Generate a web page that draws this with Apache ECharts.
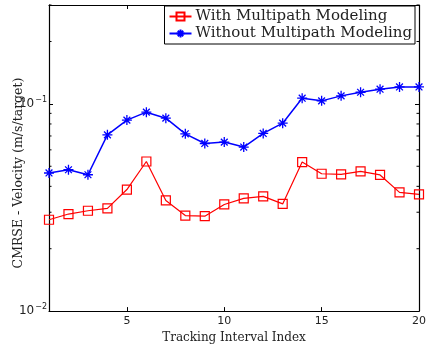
<!DOCTYPE html>
<html>
<head>
<meta charset="utf-8">
<script src="https://cdn.jsdelivr.net/npm/echarts@6/dist/echarts.min.js"></script>
<style>
  html, body { margin: 0; padding: 0; background: #fff; }
  #chart { width: 429px; height: 349px; }
</style>
</head>
<body>
<div id="chart"></div>
<script>
// Tracking interval indices
const intervals = [1, 2, 3, 4, 5, 6, 7, 8, 9, 10, 11, 12, 13, 14, 15, 16, 17, 18, 19, 20];

// CMRSE velocity (m/s/target) per tracking interval
const withMultipath = [0.0276, 0.0294, 0.0305, 0.0313, 0.0386, 0.0527, 0.0342, 0.0289, 0.0287, 0.0327,
                       0.0350, 0.0358, 0.0329, 0.0524, 0.0460, 0.0457, 0.0472, 0.0454, 0.0374, 0.0366];
const withoutMultipath = [0.0464, 0.0481, 0.0455, 0.0709, 0.0835, 0.0912, 0.0853, 0.0717, 0.0644, 0.0654,
                          0.0619, 0.0720, 0.0807, 0.1065, 0.1034, 0.1093, 0.1138, 0.1177, 0.1207, 0.1207];

// Axis ranges and ticks
const xTicks = [5, 10, 15, 20];
const yMin = 0.01, yMax = 0.3;
const yMinorTicks = [0.02, 0.03, 0.04, 0.05, 0.06, 0.07, 0.08, 0.09, 0.2, 0.3];

const seriesNames = ['With Multipath Modeling', 'Without Multipath Modeling'];
const yTitle = 'CMRSE - Velocity (m/s/target)';
const xTitle = 'Tracking Interval Index';

const serif = 'DejaVu Serif';
const sans = 'DejaVu Sans';
const textColor = '#222';

const asterisk = 'path://M5,0L5,10M0,5L10,5M1.6,1.6L8.4,8.4M1.6,8.4L8.4,1.6';

function powLabel(v) {
  const e = Math.log10(v);
  const r = Math.round(e);
  if (Math.abs(e - r) > 1e-6) return '';
  return '{b|10}{s|' + (r < 0 ? '\u2212' + (-r) : r) + '}';
}

const chart = echarts.init(document.getElementById('chart'), null, { renderer: 'canvas' });

const baseX = {
  type: 'value', min: intervals[0], max: intervals[intervals.length - 1],
  splitLine: { show: false },
  axisLine: { show: true, onZero: false, lineStyle: { color: '#000', width: 1.2 } },
  axisTick: { show: true, inside: true, length: 4, customValues: xTicks, lineStyle: { color: '#000' } }
};
const baseY = {
  type: 'log', logBase: 10, min: yMin, max: yMax, interval: 1,
  splitLine: { show: false },
  axisLine: { show: true, lineStyle: { color: '#000', width: 1.2 } },
  axisTick: { show: true, inside: true, length: 4, lineStyle: { color: '#000' } }
};

chart.setOption({
  animation: false,
  backgroundColor: '#fff',
  grid: { left: 49, right: 10, top: 5, bottom: 37 },
  xAxis: [
    Object.assign({}, baseX, {
      position: 'bottom',
      name: xTitle, nameLocation: 'middle', nameGap: 17,
      nameTextStyle: { fontFamily: serif, fontSize: 12, color: textColor },
      axisLabel: { show: true, customValues: xTicks, margin: 5, fontFamily: sans, fontSize: 11, color: textColor }
    }),
    Object.assign({}, baseX, { position: 'top', axisLabel: { show: false } })
  ],
  yAxis: [
    Object.assign({}, baseY, {
      position: 'left',
      axisLabel: {
        show: true, margin: 2, showMaxLabel: false,
        formatter: powLabel,
        rich: {
          b: { fontFamily: sans, fontSize: 12, color: textColor },
          s: { fontFamily: sans, fontSize: 8, color: textColor, padding: [0, 0, 8, 1] }
        }
      }
    }),
    Object.assign({}, baseY, { position: 'right', axisLabel: { show: false } })
  ],
  legend: {
    data: seriesNames,
    orient: 'vertical',
    right: 14, top: 6,
    backgroundColor: '#fff',
    borderColor: '#000', borderWidth: 1,
    padding: [3, 3, 3, 4],
    itemGap: 2,
    itemWidth: 22, itemHeight: 10,
    textStyle: { fontFamily: serif, fontSize: 15, color: textColor, padding: [0, 0, 0, -1] }
  },
  graphic: [{
    type: 'text', x: 19, y: 173, rotation: Math.PI / 2,
    style: {
      text: yTitle, font: '12.5px "' + serif + '"', fill: textColor,
      align: 'center', verticalAlign: 'middle'
    }
  }],
  series: [
    {
      name: seriesNames[0], type: 'line',
      data: intervals.map((x, i) => [x, withMultipath[i]]),
      symbol: 'rect', symbolSize: 9,
      lineStyle: { color: '#ff0000', width: 1.2 },
      itemStyle: { color: 'rgba(255,255,255,0)', borderColor: '#ff0000', borderWidth: 1.2 },
      z: 3
    },
    {
      name: seriesNames[1], type: 'line',
      data: intervals.map((x, i) => [x, withoutMultipath[i]]),
      symbol: asterisk, symbolSize: 10,
      lineStyle: { color: '#0000ff', width: 1.5 },
      itemStyle: { color: '#0000ff', borderColor: '#0000ff', borderWidth: 1.3 },
      z: 3
    },
    {
      // minor log ticks on the left and right frame edges
      type: 'custom', silent: true, clip: false,
      data: yMinorTicks.map(v => [intervals[0], v]),
      renderItem: function (params, api) {
        const cs = params.coordSys;
        const y = api.coord([api.value(0), api.value(1)])[1];
        return {
          type: 'group',
          children: [
            { type: 'line', shape: { x1: cs.x, y1: y, x2: cs.x + 2.5, y2: y }, style: { stroke: '#000', lineWidth: 1 } },
            { type: 'line', shape: { x1: cs.x + cs.width - 2.5, y1: y, x2: cs.x + cs.width, y2: y }, style: { stroke: '#000', lineWidth: 1 } }
          ]
        };
      }
    }
  ]
});
</script>
</body>
</html>
